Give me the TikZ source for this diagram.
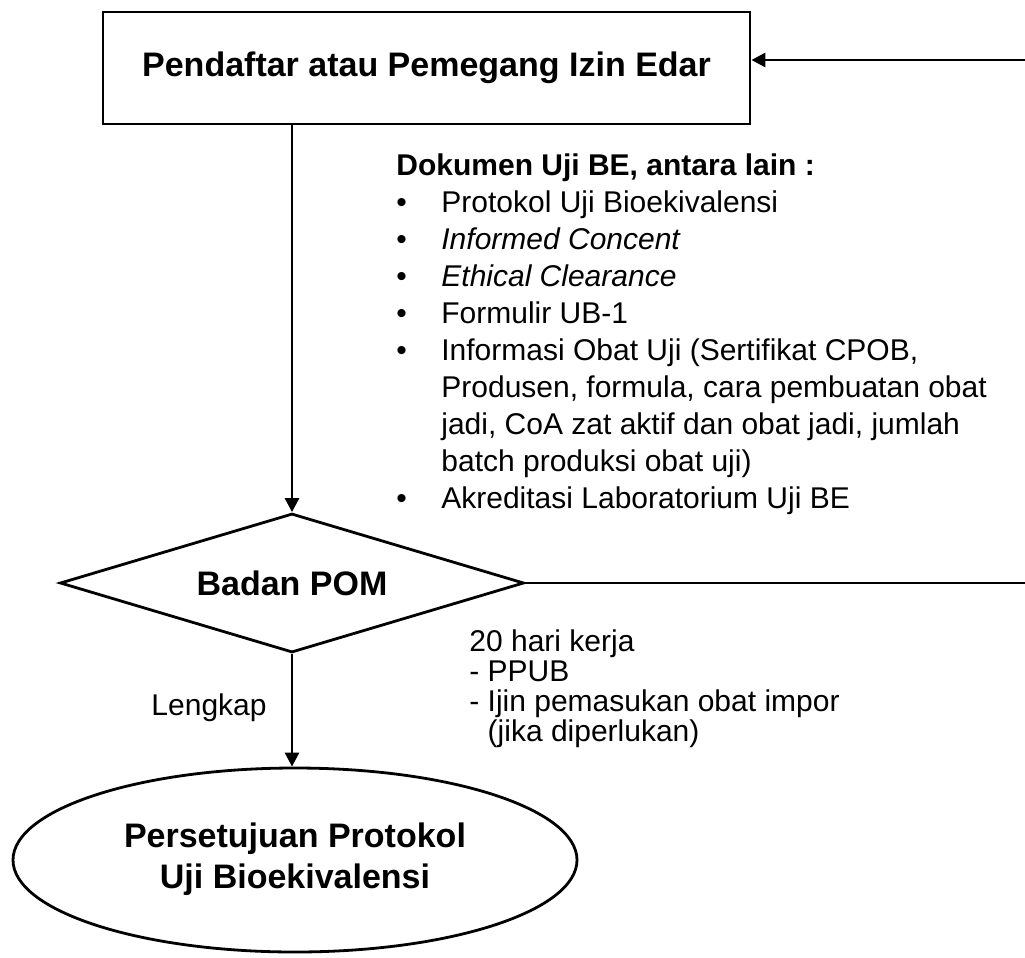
\documentclass[tikz,border=0pt]{standalone}
\usepackage{fontspec}
\setmainfont{Liberation Sans}
\usetikzlibrary{shapes.geometric,arrows.meta}
\begin{document}
\begin{tikzpicture}[x=1pt,y=-1pt,
  line width=2.8pt,
  arr/.style={-{Triangle[length=14pt,width=14pt]}},
  bold/.style={font=\fontsize{34}{40}\selectfont\bfseries},
  body/.style={font=\fontsize{30}{37}\selectfont, inner sep=0pt, align=left},
  small/.style={font=\fontsize{30}{30}\selectfont, inner sep=0pt, align=left},
]
\useasboundingbox (0,0) rectangle (1025,958);
\node[draw, minimum width=647pt, minimum height=112pt, inner sep=0pt, bold] (reg) at (426.5,68) {Pendaftar atau Pemegang Izin Edar};
\node[draw, diamond, aspect=3.3, minimum width=464pt, minimum height=139pt, inner sep=0pt, bold] (bpom) at (292,583) {Badan POM};
\node[draw, ellipse, minimum width=564pt, minimum height=184pt, inner sep=0pt, bold, align=center] (ok) at (295,860) {\strut Persetujuan Protokol\\[1pt]\strut Uji Bioekivalensi};
\coordinate (r1) at (1025,60);
\coordinate (r2) at (1025,583);
\draw[arr] (r1) -- (r1 -| reg.east);
\draw[arr] (reg.south -| bpom.north) -- (bpom.north);
\draw (bpom.east) -- (r2);
\draw[arr] (bpom.south) -- (bpom.south |- ok.north);
\node[body, anchor=north west] (docs) at (395,148) {%
\begin{tabular}{@{}p{45pt}@{}l@{}}
\multicolumn{2}{@{}l@{}}{\bfseries Dokumen Uji BE, antara lain :}\\
\textbullet & Protokol Uji Bioekivalensi\\
\textbullet & \itshape Informed Concent\\
\textbullet & \itshape Ethical Clearance\\
\textbullet & Formulir UB-1\\
\textbullet & Informasi Obat Uji (Sertifikat CPOB,\\
 & Produsen, formula, cara pembuatan obat\\
 & jadi, CoA zat aktif dan obat jadi, jumlah\\
 & batch produksi obat uji)\\
\textbullet & Akreditasi Laboratorium Uji BE
\end{tabular}};
\node[small, anchor=north west] (days) at (468,628) {20 hari kerja\\- PPUB\\- Ijin pemasukan obat impor\\\hphantom{-\ }(jika diperlukan)};
\node[small, anchor=east] (lk) at (268,708) {Lengkap};
\end{tikzpicture}
\end{document}
